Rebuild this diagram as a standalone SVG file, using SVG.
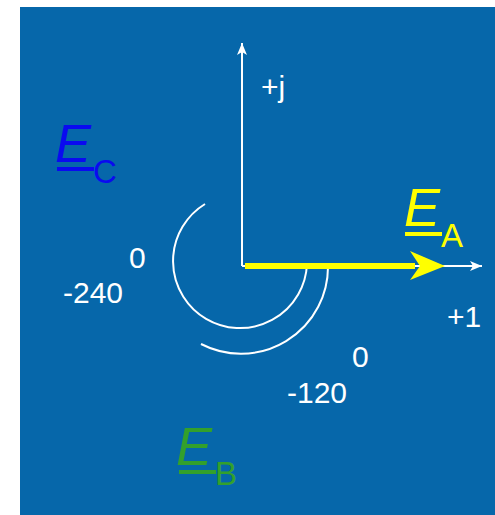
<svg xmlns="http://www.w3.org/2000/svg" width="495" height="515" viewBox="0 0 495 515">
<style>
.ax{stroke:#fff;stroke-width:2;fill:none}
.arc{stroke:#fff;stroke-width:2;fill:none}
.lbl{font-family:"Liberation Sans",Arial,sans-serif;font-size:30px;fill:#fff}
.E{font-family:"Liberation Sans",Arial,sans-serif;font-size:54px;font-style:italic}
.sub{font-family:"Liberation Sans",Arial,sans-serif;font-size:33px}
</style>
<defs>
<marker id="wh" markerWidth="12" markerHeight="10" refX="12" refY="5" orient="auto" markerUnits="userSpaceOnUse">
<path d="M0,0 L12,5 L0,10 L3,5 Z" fill="#fff"/>
</marker>
</defs>
<rect x="20" y="7" width="475" height="508" fill="#0667aa"/>
<g id="connectors">
<line class="ax" x1="242" y1="266" x2="242" y2="43" marker-end="url(#wh)"/>
<line class="ax" x1="242" y1="266" x2="482" y2="266" marker-end="url(#wh)"/>
<path class="arc" d="M307 264 A67 67 0 1 1 205 204"/>
<path class="arc" d="M328 267 A87 87 0 0 1 201 344"/>
</g>
<g id="phasor-A">
<rect x="245" y="263" width="170" height="6" fill="#ffff00"/>
<polygon points="445,266 410,251 420,266 410,280" fill="#ffff00"/>
</g>
<g id="axis-labels">
<text class="lbl" x="261" y="97">+j</text>
<text class="lbl" x="447" y="327">+1</text>
<text class="lbl" x="129" y="268">0</text>
<text class="lbl" x="63" y="303">-240</text>
<text class="lbl" x="352" y="367">0</text>
<text class="lbl" x="287" y="403">-120</text>
</g>
<g id="label-EC" fill="#0a0af0">
<text class="E" x="55" y="162">E</text>
<rect x="57" y="167" width="37" height="4"/>
<text class="sub" x="93" y="183">C</text>
</g>
<g id="label-EA" fill="#ffff00">
<text class="E" x="404" y="226">E</text>
<rect x="405" y="232" width="37" height="4"/>
<text class="sub" x="441" y="247">A</text>
</g>
<g id="label-EB" fill="#33a02c">
<text class="E" x="176" y="465">E</text>
<rect x="179" y="470" width="37" height="4"/>
<text class="sub" x="215" y="485">B</text>
</g>
</svg>
